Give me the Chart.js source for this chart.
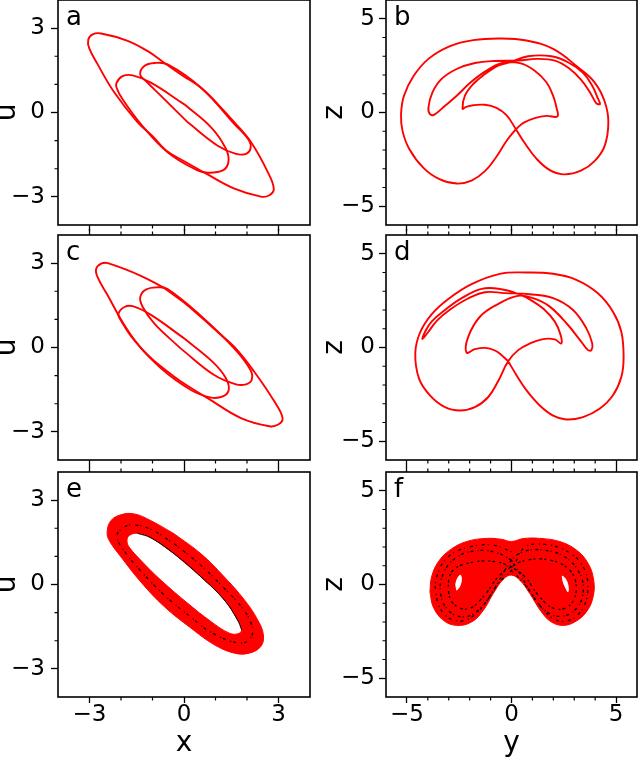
<!DOCTYPE html>
<html>
<head>
<meta charset="utf-8">
<title>Phase portraits</title>
<script src="https://cdn.jsdelivr.net/npm/chart.js@4.4.1/dist/chart.umd.min.js"></script>
<style>
  html, body { margin: 0; padding: 0; background: #fff; }
  body { position: relative; width: 640px; height: 763px; overflow: hidden; }
  canvas { position: absolute; }
</style>
</head>
<body>
<canvas id="pa" width="326" height="241" style="left:-6px;top:-8px"></canvas>
<canvas id="pb" width="320" height="241" style="left:320px;top:-8px"></canvas>
<canvas id="pc" width="326" height="241" style="left:-6px;top:227px"></canvas>
<canvas id="pd" width="320" height="241" style="left:320px;top:227px"></canvas>
<canvas id="pe" width="326" height="299" style="left:-6px;top:464px"></canvas>
<canvas id="pf" width="320" height="299" style="left:320px;top:464px"></canvas>
<script>
Chart.defaults.font.family = '"DejaVu Sans", sans-serif';
Chart.defaults.color = '#000';

// tick positions
const xuMajor = [-3, 0, 3];
const xuMinor = [-2, -1, 1, 2];
const yzMajor = [-5, 0, 5];
const yzMinor = [-4, -3, -2, -1, 1, 2, 3, 4];

// panel a (x, u): three loops
const aOuter = [[-0.62,1.76],[-0.04,1.31],[0.54,0.88],[1.07,0.3],[1.60,-0.35],[2.13,-1.06],[2.66,-2.12],[2.85,-2.71],[2.71,-2.94],[2.44,-2.99],[1.60,-2.71],[0.65,-2.14],[0.05,-1.76],[-0.57,-1.35],[-0.99,-0.85],[-1.47,-0.35],[-2.21,0.71],[-2.74,1.71],[-3.01,2.29],[-3.04,2.59],[-2.90,2.78],[-2.63,2.81],[-1.79,2.55],[-1.15,2.18],[-0.62,1.76]];
const aLeft = [[0.01,0.29],[0.86,-0.53],[1.33,-1.29],[1.41,-1.76],[1.23,-2.06],[0.75,-2.14],[0.43,-2.06],[-0.52,-1.41],[-1.37,-0.41],[-1.95,0.47],[-2.14,0.88],[-2.14,1.06],[-1.95,1.29],[-1.63,1.32],[-1.05,1.06],[0.01,0.29]];
const aRight = [[0.12,-0.35],[-0.73,0.59],[-1.21,1.12],[-1.39,1.35],[-1.26,1.65],[-0.94,1.76],[-0.52,1.71],[0.54,0.88],[1.60,-0.41],[2.07,-1.00],[2.11,-1.29],[1.97,-1.47],[1.65,-1.47],[1.07,-1.18],[0.12,-0.35]];

// panel b (y, z): one closed orbit
const bPath = [[0.21,-0.89],
  [-0.24,-1.52],[-0.72,-2.36],[-1.27,-3.13],[-1.91,-3.63],[-2.62,-3.79],[-3.42,-3.57],[-4.21,-2.95],[-4.88,-1.96],[-5.21,-0.98],[-5.28,-0.09],[-5.14,0.89],[-4.69,1.93],[-3.97,2.86],[-2.94,3.54],[-1.83,3.86],[-0.56,3.95],
  [0.72,3.84],[1.99,3.39],[3.18,2.41],[3.97,1.61],[4.45,0.6],[4.63,-0.5],[4.45,-1.79],[3.97,-2.59],[3.34,-3.09],[2.54,-3.30],[1.83,-3.07],[1.19,-2.46],[0.64,-1.64],[0.21,-0.89],
  [-0.24,-0.14],[-0.72,0.25],[-1.27,0.41],[-1.83,0.39],[-2.19,0.29],[-2.34,0.20],
  [-2.23,0.89],[-1.83,1.52],[-1.27,2.05],[-0.64,2.5],[-0.08,2.68],
  [0.79,3.0],[1.91,3.0],[2.70,2.68],[3.42,2.11],[3.86,1.43],[4.13,0.75],[4.23,0.45],
  [4.05,0.5],[3.77,1.04],[3.34,1.73],[2.75,2.36],[2.07,2.77],[1.19,2.86],[0.32,2.77],
  [-0.79,2.75],[-1.75,2.64],[-2.62,2.32],[-3.34,1.79],[-3.78,1.07],[-3.97,0.27],[-3.90,-0.09],
  [-3.69,-0.11],[-3.18,0.36],[-2.62,0.89],[-1.99,1.57],[-1.27,2.18],[-0.48,2.63],
  [0.40,2.63],[1.11,2.23],[1.67,1.61],[1.99,0.89],[2.15,0.27],[2.19,-0.21],
  [1.67,-0.18],[1.11,-0.30],[0.59,-0.54],[0.21,-0.89]];

// panel c (x, u)
const cOuter = [[-0.62,2.11],[0.0,1.6],[0.54,1.08],[1.07,0.55],[1.60,0.02],[2.23,-0.86],[2.87,-1.92],[3.13,-2.51],[2.99,-2.74],[2.71,-2.80],[1.81,-2.51],[0.75,-1.80],[0.2,-1.42],[-0.31,-1.04],[-1.26,-0.15],[-1.89,0.79],[-2.42,1.85],[-2.74,2.49],[-2.79,2.79],[-2.63,2.98],[-2.42,3.0],[-1.37,2.55],[-0.62,2.11]];
const cLeft = [[0.01,0.32],[0.91,-0.51],[1.33,-1.09],[1.42,-1.51],[1.23,-1.74],[0.86,-1.78],[0.22,-1.51],[-0.73,-0.74],[-1.58,0.26],[-2.0,0.96],[-2.08,1.2],[-1.89,1.44],[-1.63,1.47],[-1.05,1.16],[0.01,0.32]];
const cRight = [[-0.1,-0.04],[-0.94,0.85],[-1.31,1.44],[-1.39,1.79],[-1.21,2.06],[-0.84,2.14],[-0.52,2.08],[0.54,1.12],[1.60,-0.04],[2.11,-0.8],[2.15,-1.15],[1.97,-1.31],[1.65,-1.31],[0.96,-0.98],[-0.1,-0.04]];

// panel d (y, z)
const dPath = [[-0.16,-0.73],
  [0.24,-1.48],[0.72,-2.29],[1.35,-3.09],[1.99,-3.63],[2.62,-3.84],[3.42,-3.71],[4.21,-3.27],[4.85,-2.55],[5.25,-1.57],[5.36,-0.5],[5.25,0.84],[4.85,1.91],[4.13,2.89],[3.1,3.61],[1.99,3.93],[0.72,4.0],
  [-0.56,3.93],[-1.91,3.38],[-3.02,2.59],[-3.82,1.77],[-4.37,0.8],[-4.6,-0.3],[-4.42,-1.66],[-3.9,-2.55],[-3.18,-3.18],[-2.46,-3.36],[-1.75,-3.18],[-1.11,-2.64],[-0.64,-1.8],[-0.16,-0.73],
  [0.32,-0.14],[0.87,0.21],[1.51,0.45],[2.07,0.43],[2.38,0.21],
  [2.34,0.7],[2.07,1.38],[1.54,2.05],[0.91,2.54],[0.4,2.82],
  [-0.48,3.11],[-1.43,3.13],[-2.38,2.63],[-3.18,2.0],[-3.82,1.38],[-4.13,0.84],[-4.26,0.45],
  [-4.0,0.8],[-3.55,1.45],[-2.9,2.05],[-2.1,2.6],[-1.27,2.95],[-0.32,2.9],
  [0.87,2.84],[1.99,2.63],[2.94,2.0],[3.58,1.02],[3.86,0.21],[3.82,-0.14],
  [3.66,-0.14],[3.34,0.3],[2.7,1.2],[1.83,2.18],[1.03,2.63],[0.3,2.75],
  [-0.72,2.27],[-1.51,1.64],[-2.07,0.57],[-2.15,-0.27],
  [-1.75,-0.09],[-1.27,-0.02],[-0.79,-0.16],[-0.43,-0.45],[-0.16,-0.73]];

// panel e (x, u): band outline, hole, streaks
const eOuter = [[-0.31,1.8],[0.54,1.09],[1.28,0.27],[1.92,-0.55],[2.34,-1.26],[2.52,-1.79],[2.44,-2.2],[2.07,-2.44],[1.60,-2.44],[0.96,-2.14],[0.22,-1.55],[-0.62,-0.79],[-1.37,0.09],[-2.0,0.98],[-2.37,1.56],[-2.44,1.86],[-2.32,2.27],[-2.0,2.48],[-1.58,2.51],[-1.05,2.27],[-0.31,1.8]];
const eInner = [[-0.31,1.09],[0.54,0.27],[1.28,-0.55],[1.70,-1.26],[1.83,-1.61],[1.72,-1.75],[1.44,-1.73],[0.86,-1.32],[0.12,-0.67],[-0.73,0.15],[-1.37,0.86],[-1.74,1.33],[-1.81,1.56],[-1.74,1.74],[-1.47,1.82],[-1.05,1.66],[-0.31,1.09]];
const eMid = [[-0.31,1.45],[0.54,0.68],[1.28,-0.14],[1.86,-0.85],[2.15,-1.45],[2.12,-1.9],[1.75,-2.08],[0.91,-1.73],[0.17,-1.12],[-0.68,-0.32],[-1.37,0.48],[-1.87,1.15],[-2.13,1.71],[-1.95,2.0],[-1.63,2.12],[-1.05,1.96],[-0.31,1.45]];
const eEdge = [[-1.47,1.82],[-1.05,1.66],[-0.31,1.09],[0.54,0.27],[1.28,-0.55],[1.70,-1.26],[1.83,-1.61]];

// panel f (y, z)
const fOuter = [[-3.9,-0.39],[-3.82,0.41],[-3.5,1.21],[-2.94,1.84],[-2.15,2.29],[-1.19,2.46],[-0.48,2.41],[0.0,2.29],[0.56,2.45],[1.35,2.46],[2.31,2.29],[3.1,1.84],[3.66,1.13],[3.93,0.23],[3.9,-0.66],[3.58,-1.46],[3.02,-2.0],[2.46,-2.18],[1.91,-2.0],[1.43,-1.46],[0.87,-0.48],[0.40,0.23],[0.0,0.5],[-0.4,0.27],[-0.87,-0.48],[-1.35,-1.38],[-1.91,-2.0],[-2.62,-2.18],[-3.26,-1.91],[-3.74,-1.2],[-3.9,-0.39]];
const fHoleL = [[-2.62,-0.3],[-2.66,0.05],[-2.55,0.38],[-2.44,0.5],[-2.40,0.2],[-2.50,-0.15],[-2.62,-0.3]];
const fHoleR = [[2.43,0.45],[2.58,0.3],[2.70,-0.05],[2.70,-0.39],[2.6,-0.2],[2.47,0.15],[2.43,0.45]];
const fStreakA = [[0,1.30],[-0.72,1.70],[-1.67,1.80],[-2.62,1.45],[-3.26,0.59],[-3.39,-0.48],[-3.02,-1.38],[-2.31,-1.73],[-1.59,-1.38],[-0.95,-0.48],[-0.40,0.59],[0,1.30],[0.56,1.75],[1.51,1.84],[2.54,1.48],[3.26,0.59],[3.42,-0.48],[3.02,-1.38],[2.31,-1.70],[1.59,-1.38],[0.95,-0.48],[0.40,0.59],[0,1.30]];
const fStreakB = [[0,0.95],[-0.72,1.21],[-1.75,1.21],[-2.78,0.77],[-3.02,-0.13],[-2.78,-1.02],[-2.07,-1.29],[-1.35,-0.66],[-0.64,0.41],[0,0.95],[0.72,1.30],[1.83,1.30],[2.78,0.77],[3.1,-0.21],[2.78,-1.11],[2.07,-1.29],[1.35,-0.66],[0.64,0.41],[0,0.95]];
const fStreakC = [[0,1.75],[-0.9,2.1],[-2.0,2.0],[-3.0,1.5],[-3.55,0.5],[-3.6,-0.6],[-3.2,-1.6],[-2.5,-1.95],[-1.85,-1.7],[-1.2,-0.9],[-0.6,0.1],[0,0.75],[0.6,1.95],[1.5,2.15],[2.6,1.8],[3.4,1.0],[3.65,-0.3],[3.3,-1.45],[2.6,-1.95],[1.9,-1.75],[1.25,-0.95],[0.6,0.05],[0,0.75]];

const RED = '#ff0000';

function curve(pts, color, width, extra) {
  return Object.assign({
    data: pts.map(p => ({ x: p[0], y: p[1] })),
    showLine: true,
    borderColor: color,
    backgroundColor: color,
    borderWidth: width,
    pointRadius: 0,
    tension: 0.4,
    fill: false
  }, extra || {});
}

// frame, minor ticks and panel letter
const panelDecor = {
  id: 'panelDecor',
  afterDraw(chart, args, opts) {
    const { ctx, chartArea: a, scales } = chart;
    ctx.save();
    ctx.strokeStyle = '#000';
    ctx.lineWidth = 1.2;
    ctx.beginPath();
    for (const v of opts.xMinor) {
      const px = scales.x.getPixelForValue(v);
      ctx.moveTo(px, a.bottom); ctx.lineTo(px, a.bottom + 3.5);
      ctx.moveTo(px, a.top); ctx.lineTo(px, a.top - 3.5);
    }
    for (const v of opts.yMinor) {
      const py = scales.y.getPixelForValue(v);
      ctx.moveTo(a.left, py); ctx.lineTo(a.left - 3.5, py);
    }
    ctx.stroke();
    ctx.lineWidth = 1.6;
    ctx.strokeRect(a.left, a.top, a.right - a.left, a.bottom - a.top);
    ctx.fillStyle = '#000';
    ctx.font = '26px "DejaVu Sans"';
    ctx.textBaseline = 'alphabetic';
    ctx.fillText(opts.letter, a.left + 8, a.top + 25);
    ctx.restore();
  }
};

function panel(id, o) {
  const fmt = v => (v < 0 ? '\u2212' + Math.abs(v) : String(v));
  const setTicks = vals => s => { s.ticks = vals.map(v => ({ value: v })); };
  const tickGrid = len => ({ display: true, drawOnChartArea: false, drawTicks: true, tickLength: len, tickWidth: 1.3, tickColor: '#000' });
  new Chart(document.getElementById(id), {
    type: 'scatter',
    data: { datasets: o.datasets },
    options: {
      responsive: false,
      animation: false,
      events: [],
      layout: { padding: { left: 0, right: o.padRight, top: 0, bottom: 0 }, autoPadding: false },
      plugins: {
        legend: { display: false },
        tooltip: { enabled: false },
        panelDecor: { letter: o.letter, xMinor: o.xMinor, yMinor: o.yMinor }
      },
      scales: {
        x: {
          type: 'linear', position: 'bottom', min: o.xRange[0], max: o.xRange[1],
          afterBuildTicks: setTicks(o.xMajor),
          afterFit: s => { s.height = o.bottomH; s.paddingLeft = 0; s.paddingRight = 0; },
          ticks: { display: !!o.xTitle, color: '#000', padding: 1, autoSkip: false, maxRotation: 0, font: { size: 23, lineHeight: 1 }, callback: fmt },
          grid: tickGrid(6),
          border: { display: false },
          title: { display: !!o.xTitle, text: o.xTitle || '', color: '#000', font: { size: 28, lineHeight: 1 }, padding: { top: 0, bottom: 5 } }
        },
        xTop: {
          type: 'linear', position: 'top', min: o.xRange[0], max: o.xRange[1],
          afterBuildTicks: setTicks(o.xMajor),
          afterFit: s => { s.height = 8; s.paddingLeft = 0; s.paddingRight = 0; },
          ticks: { display: false },
          grid: tickGrid(6),
          border: { display: false }
        },
        y: {
          type: 'linear', position: 'left', min: o.yRange[0], max: o.yRange[1],
          afterBuildTicks: setTicks(o.yMajor),
          afterFit: s => { s.width = o.leftW; s.paddingTop = 0; s.paddingBottom = 0; },
          ticks: { color: '#000', padding: o.yPad, autoSkip: false, font: { size: 23, lineHeight: 1 }, callback: fmt },
          grid: tickGrid(7),
          border: { display: false },
          title: { display: true, text: o.yTitle, color: '#000', font: { size: 28, lineHeight: 1 }, padding: { top: o.titlePad, bottom: 0 } }
        }
      }
    },
    plugins: [panelDecor]
  });
}

const leftPanel = { xRange: [-4, 4], yRange: [-4, 4], xMajor: xuMajor, xMinor: xuMinor, yMajor: xuMajor, yMinor: xuMinor, yTitle: 'u', leftW: 64, padRight: 10, yPad: 6, titlePad: 0 };
const rightPanel = { xRange: [-6, 6], yRange: [-6, 6], xMajor: yzMajor, xMinor: yzMinor, yMajor: yzMajor, yMinor: yzMinor, yTitle: 'z', leftW: 66, padRight: 3, yPad: 4, titlePad: 1 };

panel('pa', Object.assign({}, leftPanel, { letter: 'a', bottomH: 8,
  datasets: [curve(aOuter, RED, 1.9), curve(aLeft, RED, 1.9), curve(aRight, RED, 1.9)] }));
panel('pb', Object.assign({}, rightPanel, { letter: 'b', bottomH: 8,
  datasets: [curve(bPath, RED, 1.9)] }));
panel('pc', Object.assign({}, leftPanel, { letter: 'c', bottomH: 8,
  datasets: [curve(cOuter, RED, 1.9), curve(cLeft, RED, 1.9), curve(cRight, RED, 1.9)] }));
panel('pd', Object.assign({}, rightPanel, { letter: 'd', bottomH: 8,
  datasets: [curve(dPath, RED, 1.9)] }));
panel('pe', Object.assign({}, leftPanel, { letter: 'e', bottomH: 66, xTitle: 'x',
  datasets: [
    curve(eEdge, '#000', 1),
    curve(eMid, '#000', 1.2, { borderDash: [3, 2, 1, 5] }),
    curve(eInner, RED, 1, { backgroundColor: '#fff', fill: 'shape' }),
    curve(eOuter, RED, 1, { fill: 'shape' })
  ] }));
panel('pf', Object.assign({}, rightPanel, { letter: 'f', bottomH: 66, xTitle: 'y',
  datasets: [
    curve(fStreakA, '#000', 1.3, { borderDash: [3, 2, 1, 4] }),
    curve(fStreakB, '#000', 1.3, { borderDash: [2, 4, 3, 2] }),
    curve(fStreakC, '#000', 1.2, { borderDash: [1, 3, 3, 5] }),
    curve(fHoleL, '#fff', 1, { backgroundColor: '#fff', fill: 'shape' }),
    curve(fHoleR, '#fff', 1, { backgroundColor: '#fff', fill: 'shape' }),
    curve(fOuter, RED, 1, { fill: 'shape' })
  ] }));
</script>
</body>
</html>
